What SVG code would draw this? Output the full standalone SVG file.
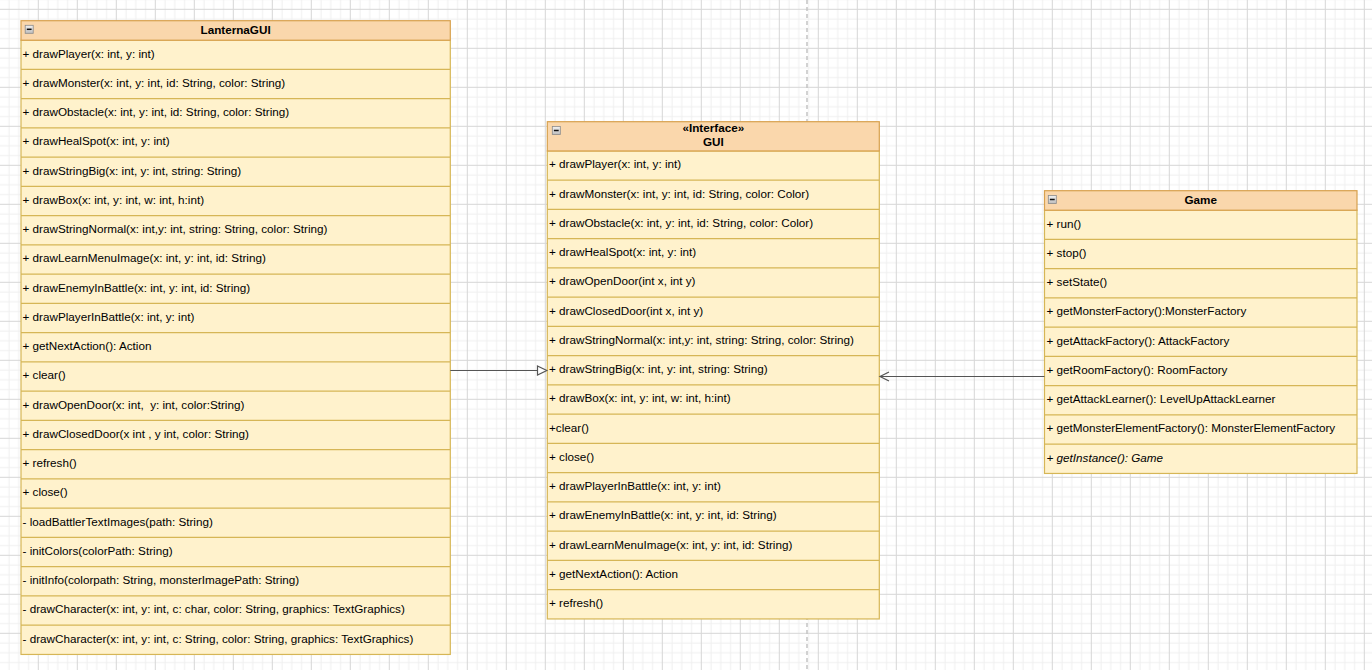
<svg xmlns="http://www.w3.org/2000/svg" width="1372" height="670" viewBox="0 0 1372 670">
<defs>
<pattern id="grid" x="37.8" y="8.8" width="39" height="39" patternUnits="userSpaceOnUse">
<path d="M0 10.25H39M0 20H39M0 29.75H39M10.25 0V39M20 0V39M29.75 0V39" stroke="#efefef" stroke-width="1" fill="none"/>
<path d="M0 0.5H39M0.5 0V39" stroke="#d6d6d6" stroke-width="1" fill="none"/>
</pattern>
<linearGradient id="ig" x1="0" y1="0" x2="0" y2="1"><stop offset="0" stop-color="#f2f2f2"/><stop offset="1" stop-color="#bdbdbd"/></linearGradient>
</defs>
<style>
.hdr{fill:#fad7ac;stroke:#d8a14e;stroke-width:1.2}
.body{fill:#fff2cc;stroke:#d6b656;stroke-width:1.2}
.sep{stroke:#d6b656;stroke-width:1.2}
.t{font-family:"Liberation Sans",Arial,sans-serif;font-size:11.7px;fill:#000}
.tb{font-family:"Liberation Sans",Arial,sans-serif;font-size:11.7px;font-weight:bold;fill:#000;text-anchor:middle}
.it{font-style:italic}
.icon{fill:url(#ig);stroke:#8a8a8a;stroke-width:0.8}
.minus{stroke:#111;stroke-width:1.5}
.edge{stroke:#555;stroke-width:1.2;fill:none}
</style>
<rect width="1372" height="670" fill="#ffffff"/>
<rect width="1372" height="670" fill="url(#grid)"/>
<line x1="807" y1="0" x2="807" y2="670" stroke="#c4c4c4" stroke-width="1.5" stroke-dasharray="4 3"/>

<g id="LanternaGUI">
<rect class="body" x="21" y="40.2" width="429.3" height="614.25"/>
<g class="sep">
<line x1="21" y1="69.45" x2="450.3" y2="69.45"/><line x1="21" y1="98.7" x2="450.3" y2="98.7"/><line x1="21" y1="127.95" x2="450.3" y2="127.95"/><line x1="21" y1="157.2" x2="450.3" y2="157.2"/><line x1="21" y1="186.45" x2="450.3" y2="186.45"/><line x1="21" y1="215.7" x2="450.3" y2="215.7"/><line x1="21" y1="244.95" x2="450.3" y2="244.95"/><line x1="21" y1="274.2" x2="450.3" y2="274.2"/><line x1="21" y1="303.45" x2="450.3" y2="303.45"/><line x1="21" y1="332.7" x2="450.3" y2="332.7"/><line x1="21" y1="361.95" x2="450.3" y2="361.95"/><line x1="21" y1="391.2" x2="450.3" y2="391.2"/><line x1="21" y1="420.45" x2="450.3" y2="420.45"/><line x1="21" y1="449.7" x2="450.3" y2="449.7"/><line x1="21" y1="478.95" x2="450.3" y2="478.95"/><line x1="21" y1="508.2" x2="450.3" y2="508.2"/><line x1="21" y1="537.45" x2="450.3" y2="537.45"/><line x1="21" y1="566.7" x2="450.3" y2="566.7"/><line x1="21" y1="595.95" x2="450.3" y2="595.95"/><line x1="21" y1="625.2" x2="450.3" y2="625.2"/>
</g>
<rect class="hdr" x="21" y="20.7" width="429.3" height="19.5"/>
<rect class="icon" x="25.2" y="25.3" width="8" height="8"/><line class="minus" x1="26.8" y1="29.3" x2="31.6" y2="29.3"/>
<text class="tb" x="235.6" y="34.3">LanternaGUI</text>
<text class="t" x="22.5" y="57.5">+ drawPlayer(x: int, y: int)</text>
<text class="t" x="22.5" y="86.75">+ drawMonster(x: int, y: int, id: String, color: String)</text>
<text class="t" x="22.5" y="116">+ drawObstacle(x: int, y: int, id: String, color: String)</text>
<text class="t" x="22.5" y="145.25">+ drawHealSpot(x: int, y: int)</text>
<text class="t" x="22.5" y="174.5">+ drawStringBig(x: int, y: int, string: String)</text>
<text class="t" x="22.5" y="203.75">+ drawBox(x: int, y: int, w: int, h:int)</text>
<text class="t" x="22.5" y="233">+ drawStringNormal(x: int,y: int, string: String, color: String)</text>
<text class="t" x="22.5" y="262.25">+ drawLearnMenuImage(x: int, y: int, id: String)</text>
<text class="t" x="22.5" y="291.5">+ drawEnemyInBattle(x: int, y: int, id: String)</text>
<text class="t" x="22.5" y="320.75">+ drawPlayerInBattle(x: int, y: int)</text>
<text class="t" x="22.5" y="350">+ getNextAction(): Action</text>
<text class="t" x="22.5" y="379.25">+ clear()</text>
<text class="t" x="22.5" y="408.5">+ drawOpenDoor(x: int,&#160; y: int, color:String)</text>
<text class="t" x="22.5" y="437.75">+ drawClosedDoor(x int , y int, color: String)</text>
<text class="t" x="22.5" y="467">+ refresh()</text>
<text class="t" x="22.5" y="496.25">+ close()</text>
<text class="t" x="22.5" y="525.5">- loadBattlerTextImages(path: String)</text>
<text class="t" x="22.5" y="554.75">- initColors(colorPath: String)</text>
<text class="t" x="22.5" y="584">- initInfo(colorpath: String, monsterImagePath: String)</text>
<text class="t" x="22.5" y="613.25">- drawCharacter(x: int, y: int, c: char, color: String, graphics: TextGraphics)</text>
<text class="t" x="22.5" y="642.5">- drawCharacter(x: int, y: int, c: String, color: String, graphics: TextGraphics)</text>
</g>

<g id="GUI">
<rect class="body" x="547.3" y="150.95" width="332" height="468"/>
<g class="sep">
<line x1="547.3" y1="180.2" x2="879.3" y2="180.2"/><line x1="547.3" y1="209.45" x2="879.3" y2="209.45"/><line x1="547.3" y1="238.7" x2="879.3" y2="238.7"/><line x1="547.3" y1="267.95" x2="879.3" y2="267.95"/><line x1="547.3" y1="297.2" x2="879.3" y2="297.2"/><line x1="547.3" y1="326.45" x2="879.3" y2="326.45"/><line x1="547.3" y1="355.7" x2="879.3" y2="355.7"/><line x1="547.3" y1="384.95" x2="879.3" y2="384.95"/><line x1="547.3" y1="414.2" x2="879.3" y2="414.2"/><line x1="547.3" y1="443.45" x2="879.3" y2="443.45"/><line x1="547.3" y1="472.7" x2="879.3" y2="472.7"/><line x1="547.3" y1="501.95" x2="879.3" y2="501.95"/><line x1="547.3" y1="531.2" x2="879.3" y2="531.2"/><line x1="547.3" y1="560.45" x2="879.3" y2="560.45"/><line x1="547.3" y1="589.7" x2="879.3" y2="589.7"/>
</g>
<rect class="hdr" x="547.3" y="121.7" width="332" height="29.25"/>
<rect class="icon" x="552.3" y="126.5" width="8" height="8"/><line class="minus" x1="553.9" y1="130.5" x2="558.7" y2="130.5"/>
<text class="tb" x="713.3" y="131.7">«Interface»</text>
<text class="tb" x="713.3" y="145.7">GUI</text>
<text class="t" x="549" y="168.25">+ drawPlayer(x: int, y: int)</text>
<text class="t" x="549" y="197.5">+ drawMonster(x: int, y: int, id: String, color: Color)</text>
<text class="t" x="549" y="226.75">+ drawObstacle(x: int, y: int, id: String, color: Color)</text>
<text class="t" x="549" y="256">+ drawHealSpot(x: int, y: int)</text>
<text class="t" x="549" y="285.25">+ drawOpenDoor(int x, int y)</text>
<text class="t" x="549" y="314.5">+ drawClosedDoor(int x, int y)</text>
<text class="t" x="549" y="343.75">+ drawStringNormal(x: int,y: int, string: String, color: String)</text>
<text class="t" x="549" y="373">+ drawStringBig(x: int, y: int, string: String)</text>
<text class="t" x="549" y="402.25">+ drawBox(x: int, y: int, w: int, h:int)</text>
<text class="t" x="549" y="431.5">+clear()</text>
<text class="t" x="549" y="460.75">+ close()</text>
<text class="t" x="549" y="490">+ drawPlayerInBattle(x: int, y: int)</text>
<text class="t" x="549" y="519.25">+ drawEnemyInBattle(x: int, y: int, id: String)</text>
<text class="t" x="549" y="548.5">+ drawLearnMenuImage(x: int, y: int, id: String)</text>
<text class="t" x="549" y="577.75">+ getNextAction(): Action</text>
<text class="t" x="549" y="607">+ refresh()</text>
</g>

<g id="Game">
<rect class="body" x="1044.5" y="210.2" width="312.5" height="263.25"/>
<g class="sep">
<line x1="1044.5" y1="239.45" x2="1357" y2="239.45"/><line x1="1044.5" y1="268.7" x2="1357" y2="268.7"/><line x1="1044.5" y1="297.95" x2="1357" y2="297.95"/><line x1="1044.5" y1="327.2" x2="1357" y2="327.2"/><line x1="1044.5" y1="356.45" x2="1357" y2="356.45"/><line x1="1044.5" y1="385.7" x2="1357" y2="385.7"/><line x1="1044.5" y1="414.95" x2="1357" y2="414.95"/><line x1="1044.5" y1="444.2" x2="1357" y2="444.2"/>
</g>
<rect class="hdr" x="1044.5" y="190.7" width="312.5" height="19.5"/>
<rect class="icon" x="1048.3" y="195.5" width="8" height="8"/><line class="minus" x1="1049.9" y1="199.5" x2="1054.7" y2="199.5"/>
<text class="tb" x="1200.75" y="204">Game</text>
<text class="t" x="1046.5" y="227.5">+ run()</text>
<text class="t" x="1046.5" y="256.75">+ stop()</text>
<text class="t" x="1046.5" y="286">+ setState()</text>
<text class="t" x="1046.5" y="315.25">+ getMonsterFactory():MonsterFactory</text>
<text class="t" x="1046.5" y="344.5">+ getAttackFactory(): AttackFactory</text>
<text class="t" x="1046.5" y="373.75">+ getRoomFactory(): RoomFactory</text>
<text class="t" x="1046.5" y="403">+ getAttackLearner(): LevelUpAttackLearner</text>
<text class="t" x="1046.5" y="432.25">+ getMonsterElementFactory(): MonsterElementFactory</text>
<text class="t it" x="1046.5" y="461.5">+ getInstance(): Game</text>
</g>

<g id="connectors">
<line class="edge" x1="450.3" y1="370.5" x2="537.5" y2="370.5"/>
<polygon class="edge" points="537.5,366 546.8,370.5 537.5,375" fill="#ffffff" style="fill:#ffffff"/>
<line class="edge" x1="1044.5" y1="376.5" x2="880.5" y2="376.5"/>
<polyline class="edge" points="889,372 880,376.5 889,381"/>
</g>
</svg>
